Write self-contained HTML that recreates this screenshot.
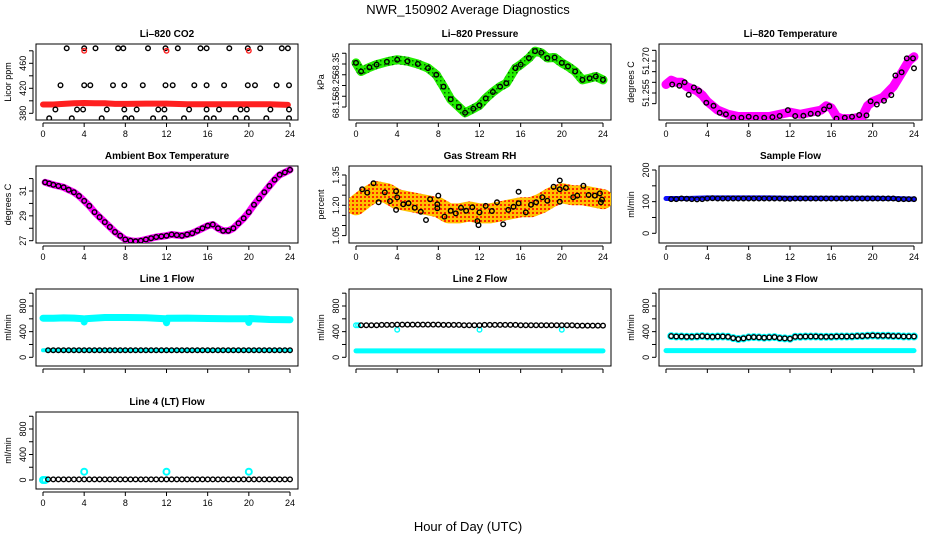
<!DOCTYPE html>
<html><head><meta charset="utf-8"><style>
body{margin:0;background:#fff;}
svg{display:block;font-family:"Liberation Sans",Arial,sans-serif;}
.tl{font-size:9px;fill:#000;}
.tt{font-size:10px;font-weight:bold;fill:#000;}
</style></head><body>
<svg id="chart" width="936" height="540" viewBox="0 0 936 540" xmlns="http://www.w3.org/2000/svg">
<defs>
<pattern id="rhpat" width="4" height="4" patternUnits="userSpaceOnUse"><rect width="4" height="4" fill="#ffc000"/><rect x="0" y="0" width="2" height="2" fill="#ff2a00"/></pattern>
<pattern id="grpat" width="4" height="4" patternUnits="userSpaceOnUse"><rect width="4" height="4" fill="#22ee00"/><rect x="0" y="0" width="1.5" height="1.5" fill="#006600"/></pattern>
</defs>
<text x="468" y="14" text-anchor="middle" font-size="13">NWR_150902  Average Diagnostics</text>
<text x="468" y="531" text-anchor="middle" font-size="13">Hour of Day (UTC)</text>
</svg>
<script>
// ---------- data ----------
const xTicks = [0,4,8,12,16,20,24];
// CO2
const co2Hours = [2.3,4.0,5.1,7.3,7.8,10.2,11.9,13.1,15.3,15.9,18.1,19.9,21.1,23.2,23.8, 1.7,4.0,4.6,6.8,7.9,9.7,11.9,12.6,14.7,15.9,17.6,19.9,20.6,22.7,23.9, 1.2,3.3,3.9,6.2,7.9,9.1,11.2,11.8,14.2,15.9,17.1,19.2,19.8,22.1,23.9, 0.6,2.8,5.7,8.0,8.6,10.7,11.8,13.7,15.9,16.6,18.7,19.8,21.7,23.9];
const co2Values = [484,484,484,484,484,484,484,484,484,484,484,484,484,484,484, 425,425,425,425,425,425,425,425,425,425,425,425,425,425,425, 386,386,386,386,386,386,386,386,386,386,386,386,386,386,386, 372,372,372,372,372,372,372,372,372,372,372,372,372,372];
const co2RedHours = [0,1,2,3,4,5,6,7,8,10,12,14,16,18,20,22,23.8];
const co2RedValues = [394,394,395,396,396.5,396,396,395,395,395.5,395.5,394.5,394.5,394.5,394.5,394.5,393.5];
const co2RedOutHours = [4,12,20];
const co2RedOutValues = [480,480,480];
// Pressure
const presHours = [0,0.5,1.3,2,3,4,5,6,7,7.8,8.5,9.2,10,10.6,11.4,12,12.6,13.3,14,14.6,15.5,16,16.8,17.4,18,18.6,19.3,20,20.6,21.3,22,22.7,23.3,24];
const presValues = [68.355,68.315,68.334,68.347,68.36,68.37,68.363,68.35,68.331,68.30,68.245,68.186,68.15,68.123,68.142,68.158,68.19,68.22,68.245,68.26,68.331,68.347,68.378,68.41,68.402,68.378,68.38,68.355,68.339,68.315,68.276,68.284,68.292,68.276];
// Li-820 temperature
const tempHours = [0.6,1.3,1.8,2.2,2.7,3.2,3.9,4.6,5.2,5.8,6.5,7.3,8,8.7,9.5,10.3,11,11.8,12.5,13.3,14,14.7,15.3,15.8,16.5,17.3,18,18.7,19.4,19.8,20.4,21.1,21.8,22.2,22.8,23.3,23.9,24];
const tempValues = [51.259,51.2584,51.260,51.2542,51.2576,51.256,51.2504,51.249,51.2457,51.245,51.2434,51.2434,51.2439,51.2434,51.2434,51.2437,51.2442,51.247,51.2442,51.2443,51.2453,51.2453,51.2473,51.2488,51.243,51.2434,51.2439,51.2447,51.2445,51.2511,51.2496,51.2514,51.254,51.2632,51.2647,51.2712,51.2712,51.2666];
const tempBandHours = [0,0.5,1,1.5,2,2.5,3,3.5,4,4.5,5,6,7,8,10,11,12,13,14,15,15.5,16,16.5,17,18,19,19.5,20,21,22,22.5,23,23.5,24];
const tempBandValues = [51.259,51.261,51.260,51.260,51.258,51.257,51.256,51.254,51.251,51.249,51.247,51.245,51.244,51.244,51.244,51.245,51.246,51.245,51.246,51.247,51.249,51.248,51.244,51.243,51.243,51.244,51.249,51.251,51.253,51.258,51.262,51.266,51.270,51.272];
// Ambient
const ambHours = [0.2,0.6,1,1.5,2,2.5,3,3.5,4,4.5,5,5.5,6,6.5,7,7.5,8,8.5,9,9.5,10,10.5,11,11.5,12,12.5,13,13.5,14,14.5,15,15.5,16,16.5,17,17.5,18,18.5,19,19.5,20,20.5,21,21.5,22,22.5,23,23.5,24];
const ambValues = [31.7,31.6,31.5,31.4,31.3,31.1,30.9,30.6,30.2,29.8,29.3,28.9,28.5,28.1,27.7,27.4,27.1,27.0,26.95,27.0,27.1,27.2,27.3,27.35,27.4,27.5,27.45,27.4,27.5,27.6,27.8,28.0,28.2,28.3,28.0,27.8,27.8,28.0,28.4,28.8,29.3,29.9,30.4,30.9,31.4,31.9,32.3,32.5,32.7];
// RH
const rhHours = [0.6,1.1,1.7,2.2,2.8,3.3,3.9,3.9,4,4.6,5.1,5.7,6.3,6.8,7.2,7.9,7.9,8,8.6,9.2,9.7,10.2,10.7,11.3,11.8,11.9,12,12.6,13.2,13.7,14.3,14.8,15.3,15.8,15.8,16.5,17,17.5,18.1,18.6,19.2,19.8,19.8,19.8,20.4,21.1,21.5,22.1,22.6,23.2,23.7,23.8,23.9];
const rhValues = [1.279,1.263,1.309,1.215,1.264,1.221,1.177,1.27,1.239,1.205,1.21,1.188,1.168,1.127,1.23,1.205,1.185,1.248,1.144,1.173,1.16,1.188,1.173,1.19,1.122,1.102,1.165,1.197,1.172,1.215,1.106,1.177,1.193,1.21,1.267,1.165,1.203,1.215,1.24,1.223,1.292,1.323,1.279,1.218,1.286,1.24,1.248,1.297,1.251,1.248,1.259,1.215,1.228];
const rhBandHours = [0,1,2,3,4,5,6,7,8,9,10,11,12,13,14,15,16,17,18,19,20,21,22,23,24];
const rhBandValues = [1.20,1.24,1.27,1.26,1.23,1.22,1.21,1.20,1.19,1.16,1.16,1.17,1.16,1.16,1.17,1.18,1.19,1.19,1.21,1.24,1.26,1.25,1.25,1.24,1.23];
// Flows (half-hour averages)
const flowHours = [0.5,1,1.5,2,2.5,3,3.5,4,4.5,5,5.5,6,6.5,7,7.5,8,8.5,9,9.5,10,10.5,11,11.5,12,12.5,13,13.5,14,14.5,15,15.5,16,16.5,17,17.5,18,18.5,19,19.5,20,20.5,21,21.5,22,22.5,23,23.5,24];
const sampleValues = [108,108,110,109,108,107,108,110,111,110,110,110,110,110,110,110,110,110,110,110,110,110,109,109,110,110,110,110,110,110,110,110,110,110,110,110,110,110,110,110,110,110,110,110,108,108,108,108];
const line1Values = [110,110,110,110,110,110,110,110,110,110,110,110,110,110,110,110,110,110,110,110,110,110,110,110,110,110,110,110,110,110,110,110,110,110,110,110,110,110,110,110,110,110,110,110,110,110,110,110];
const line2Values = [500,500,500,500,505,505,505,510,510,510,510,510,510,510,510,510,505,505,505,505,500,500,500,500,505,505,505,505,505,505,505,500,500,500,500,500,500,500,500,500,500,500,495,495,495,495,495,495];
const line3Values = [330,325,325,320,320,325,330,325,320,325,325,320,300,285,295,310,315,310,305,310,315,300,295,290,320,320,325,325,325,320,320,320,325,325,325,325,330,330,335,340,335,335,335,330,330,325,325,325];
const line4Values = [10,10,10,10,10,10,10,10,10,10,10,10,10,10,10,10,10,10,10,10,10,10,10,10,10,10,10,10,10,10,10,10,10,10,10,10,10,10,10,10,10,10,10,10,10,10,10,10];
const sampleBandHours = [0,2,4,6,8,10,12,14,16,18,20,22,24];
const sampleBandValues = [110,110,112,112,112,112,111,111,111,111,111,110,108];
const line1CyanHours = [0,1,2,3,3.9,4,4.1,6,8,10,11.9,12,12.1,14,16,18,19.9,20,20.1,22,24];
const line1CyanValues = [610,610,615,612,600,550,600,620,620,618,600,540,610,612,605,602,600,545,605,590,585];
const line1LowHours = [0,24];
const line1LowValues = [110,110];
const line2CyanHours = [0,24];
const line2CyanValues = [100,100];
const line2CyanHiHours = [0,0.2,4,12,20];
const line2CyanHiValues = [500,500,430,430,430];
const line3CyanHours = [0,24];
const line3CyanValues = [105,105];
const line4CyanHours = [0,0.2,4,12,20];
const line4CyanValues = [0,0,130,130,130];

// ---------- layout ----------
const NS = 'http://www.w3.org/2000/svg';
const svg = document.getElementById('chart');
const colBox = [[36,298],[349,611],[659,922]];
const rowBox = [[44,120],[166,243],[289,366],[412,489]];

function mk(tag, attrs, parent){
  const e = document.createElementNS(NS, tag);
  for (const k in attrs) e.setAttribute(k, attrs[k]);
  (parent||svg).appendChild(e);
  return e;
}

function panel(p){
  const g = mk('g', {});
  
  
  const [L,R] = colBox[p.col], [T,B] = rowBox[p.row];
  const xs = h => (L+7) + h*((R-8)-(L+7))/24;
  const ys = v => p.p1 + (v-p.v1)*(p.p2-p.p1)/(p.v2-p.v1);
  const title = mk('text', {x:(L+R)/2, y:T-7, 'text-anchor':'middle', class:'tt'}, g);
  title.textContent = p.title;
  
  
  const box = mk('rect', {x:L, y:T, width:R-L, height:B-T, fill:'none', stroke:'#000', 'stroke-width':1}, g);
  
  
  const xa = mk('g', {}, g);
  
  
  mk('line', {x1:xs(0), x2:xs(24), y1:B+3, y2:B+3, stroke:'#000'}, xa);
  xTicks.forEach(t=>{
    mk('line', {x1:xs(t), x2:xs(t), y1:B+3, y2:B+7, stroke:'#000'}, xa);
    if (p.xlab){
      const tx = mk('text', {x:xs(t), y:B+17, 'text-anchor':'middle', class:'tl'}, xa);
      tx.textContent = t;
    }
  });
  const ya = mk('g', {}, g);
  
  
  const yt = p.ticks.map(ys);
  mk('line', {x1:L-3, x2:L-3, y1:Math.min(...yt), y2:Math.max(...yt), stroke:'#000'}, ya);
  p.ticks.forEach(t=>mk('line', {x1:L-3, x2:L-7, y1:ys(t), y2:ys(t), stroke:'#000'}, ya));
  p.labels.forEach(t=>{
    const y = ys(t);
    const tx = mk('text', {x:L-10, y:y, 'text-anchor':'middle', class:'tl', transform:`rotate(-90 ${L-10} ${y})`}, ya);
    tx.textContent = p.fmt ? p.fmt(t) : t;
  });
  const yl = mk('text', {x:L-25, y:(T+B)/2, 'text-anchor':'middle', class:'tl', transform:`rotate(-90 ${L-25} ${(T+B)/2})`}, g);
  yl.textContent = p.ylab;
  
  
  const cid = 'c'+p.col+p.row;
  const cp = mk('clipPath', {id:cid}, g);
  mk('rect', {x:L, y:T, width:R-L, height:B-T}, cp);
  const plot = mk('g', {'clip-path':`url(#${cid})`}, g);
  
  
  (p.bands||[]).forEach(b=>{
    const pts = b.h.map((h,i)=>xs(h).toFixed(1)+','+ys(b.v[i]).toFixed(1)).join(' ');
    const pl = mk('polyline', {points:pts, fill:'none', stroke:b.c, 'stroke-width':b.w, 'stroke-linejoin':'round', 'stroke-linecap':'round'}, plot);
    
    
  });
  (p.pts||[]).forEach(s=>{
    s.h.forEach((h,i)=>{
      const c = mk('circle', {cx:xs(h).toFixed(1), cy:ys(s.v[i]).toFixed(1), r:s.r||2.3, fill:'none', stroke:s.c, 'stroke-width':s.sw||1.4}, plot);
      
      
    });
  });
}

const flowAxis = {ticks:[0,200,400,600,800,1000], labels:[0,400,800]};

panel({name:'co2-panel', col:0,row:0,title:'Li\u2013820 CO2',ylab:'Licor ppm',v1:380,p1:113.3,v2:460,p2:63.3,
  ticks:[380,400,420,440,460,480],labels:[380,420,460],xlab:true,
  bands:[{name:'co2-band',h:co2RedHours,v:co2RedValues,c:'#ff2020',w:6}],
  pts:[{name:'co2-point',h:co2Hours,v:co2Values,c:'#000'},{name:'co2-red-point',h:co2RedOutHours,v:co2RedOutValues,c:'#ff2020'}]});
panel({name:'pressure-panel', col:1,row:0,title:'Li\u2013820 Pressure',ylab:'kPa',v1:68.15,p1:107,v2:68.35,p2:64,
  ticks:[68.15,68.2,68.25,68.3,68.35,68.4],labels:[68.15,68.25,68.35],fmt:v=>v.toFixed(2),xlab:true,
  bands:[{name:'pressure-band',h:presHours,v:presValues,c:'url(#grpat)',w:9}],
  pts:[{name:'pressure-point',h:presHours,v:presValues,c:'#000'}]});
panel({name:'temperature-panel', col:2,row:0,title:'Li\u2013820 Temperature',ylab:'degrees C',v1:51.255,p1:93,v2:51.270,p2:61,
  ticks:[51.250,51.255,51.260,51.265,51.270,51.275],labels:[51.255,51.270],fmt:v=>v.toFixed(3),xlab:true,
  bands:[{name:'temperature-band',h:tempBandHours,v:tempBandValues,c:'#ff00ff',w:9}],
  pts:[{name:'temperature-point',h:tempHours,v:tempValues,c:'#000'}]});
panel({name:'ambient-panel', col:0,row:1,title:'Ambient Box Temperature',ylab:'degrees C',v1:27,p1:240.7,v2:31,p2:191,
  ticks:[27,28,29,30,31,32],labels:[27,29,31],xlab:true,
  bands:[{name:'ambient-band',h:ambHours,v:ambValues,c:'#ff00ff',w:7}],
  pts:[{name:'ambient-point',h:ambHours,v:ambValues,c:'#000'}]});
panel({name:'rh-panel', col:1,row:1,title:'Gas Stream RH',ylab:'percent',v1:1.35,p1:175,v2:1.05,p2:235.6,
  ticks:[1.05,1.1,1.15,1.2,1.25,1.3,1.35],labels:[1.05,1.20,1.35],fmt:v=>v.toFixed(2),xlab:true,
  bands:[{name:'rh-band',h:rhBandHours,v:rhBandValues,c:'url(#rhpat)',w:20}],
  pts:[{name:'rh-point',h:rhHours,v:rhValues,c:'#000'}]});
panel({name:'sample-flow-panel', col:2,row:1,title:'Sample Flow',ylab:'ml/min',v1:0,p1:233.3,v2:200,p2:170,
  ticks:[0,50,100,150,200],labels:[0,100,200],xlab:true,
  bands:[{name:'sample-band',h:sampleBandHours,v:sampleBandValues,c:'#1010ff',w:5}],
  pts:[{name:'sample-point',h:flowHours,v:sampleValues,c:'#000'}]});
panel(Object.assign({name:'line1-panel', col:0,row:2,title:'Line 1 Flow',ylab:'ml/min',v1:0,p1:357.3,v2:800,p2:306,xlab:false,
  bands:[{name:'line1-cyan-band',h:line1CyanHours,v:line1CyanValues,c:'#00ffff',w:7},{name:'line1-low-band',h:line1LowHours,v:line1LowValues,c:'#00ffff',w:4}],
  pts:[{name:'line1-point',h:flowHours,v:line1Values,c:'#000'}]}, flowAxis));
panel(Object.assign({name:'line2-panel', col:1,row:2,title:'Line 2 Flow',ylab:'ml/min',v1:0,p1:357.3,v2:800,p2:306,xlab:false,
  bands:[{name:'line2-cyan-band',h:line2CyanHours,v:line2CyanValues,c:'#00ffff',w:5}],
  pts:[{name:'line2-cyan-point',h:line2CyanHiHours,v:line2CyanHiValues,c:'#00ffff'},{name:'line2-point',h:flowHours,v:line2Values,c:'#000'}]}, flowAxis));
panel(Object.assign({name:'line3-panel', col:2,row:2,title:'Line 3 Flow',ylab:'ml/min',v1:0,p1:357.3,v2:800,p2:306,xlab:false,
  bands:[{name:'line3-cyan-band',h:line3CyanHours,v:line3CyanValues,c:'#00ffff',w:5}],
  pts:[{name:'line3-cyan-point',h:flowHours,v:line3Values,c:'#00ffff',r:3,sw:2},{name:'line3-point',h:flowHours,v:line3Values,c:'#000'}]}, flowAxis));
panel(Object.assign({name:'line4-panel', col:0,row:3,title:'Line 4 (LT) Flow',ylab:'ml/min',v1:0,p1:480,v2:800,p2:429,xlab:true,
  pts:[{name:'line4-cyan-point',h:line4CyanHours,v:line4CyanValues,c:'#00ffff',r:3,sw:2},{name:'line4-point',h:flowHours,v:line4Values,c:'#000'}]}, flowAxis));
</script>
</body></html>
